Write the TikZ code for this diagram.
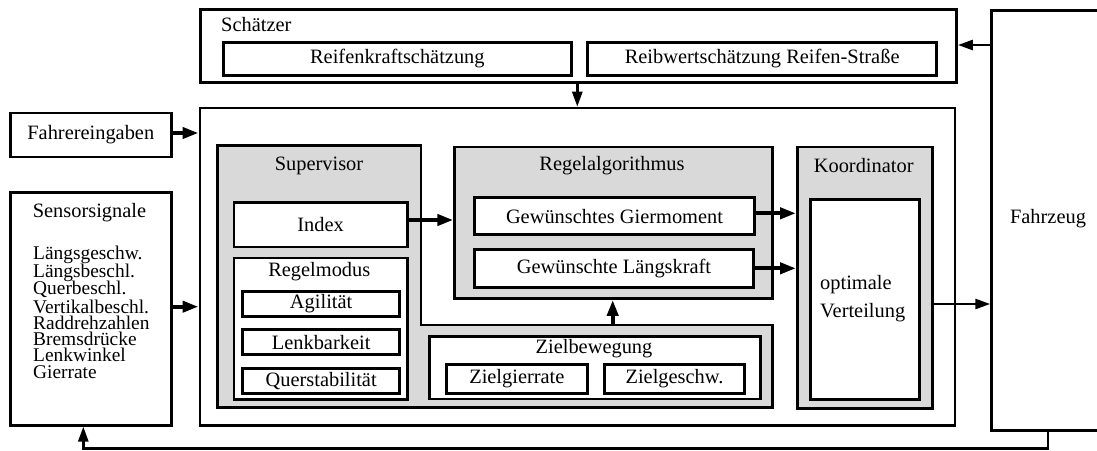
\documentclass[tikz,border=0pt]{standalone}
\usepackage{fontspec}
\setmainfont{Liberation Serif}
\usetikzlibrary{arrows.meta}
\newcommand{\tightlines}{\lineskiplimit=-100pt\relax}
\tikzset{
  frame/.style={draw, line width=2.6pt, fill=white},
  inbox/.style={draw, line width=3pt, fill=white},
  graybox/.style={draw, line width=2.6pt, fill=black!15},
  lbl/.style={inner sep=0pt, font=\fontsize{20.4}{22}\selectfont},
  flow/.style={line width=4pt, -{Triangle[length=16pt,width=11pt]}},
  thinflow/.style={line width=2.6pt, -{Triangle[length=15pt,width=10pt]}},
}
\newcommand{\boxat}[6]{% style, name, x1, y1, x2, y2
  \node[#1, inner sep=0pt, anchor=north west, minimum width={#5-#3}, minimum height={#6-#4}] (#2) at (#3,#4) {};}
\begin{document}
\begin{tikzpicture}[x=1pt,y=-1pt]
\useasboundingbox (0,0) rectangle (1097,450);

% estimator
\boxat{frame}{schaetzer}{199}{8.3}{955.3}{81}
\node[lbl, anchor=west] (tSchaetzer) at (221,25) {Schätzer};
\boxat{inbox}{reifen}{221.7}{40.7}{570}{74}
\node[lbl] (tReifen) at (reifen) {Reifenkraftschätzung};
\boxat{inbox}{reib}{586}{40.7}{935.3}{74}
\node[lbl] (tReib) at (reib) {Reibwertschätzung Reifen-Straße};

% vehicle (its right side runs past the page edge)
\boxat{frame}{fahrzeug}{990.3}{9.3}{1120}{429}
\node[lbl] (tFahrzeug) at (1048,219) {Fahrzeug};

% controller frame
\boxat{frame}{main}{198.5}{106.7}{953.7}{424}

% inputs
\boxat{frame}{fahrer}{9}{111.7}{170}{155.7}
\node[lbl] (tFahrer) at (fahrer) {Fahrereingaben};
\boxat{frame}{sensor}{9}{191}{170}{424}
\node[lbl] (tSensor) at (89.5,213) {Sensorsignale};
% base anchor of a multi-line node sits on its last line; fixed line pitch
\node[lbl, anchor=base west, align=left,
      font=\fontsize{19.4}{16.3}\selectfont\tightlines] (tSignals) at (33,378.2)
  {Längsgeschw.\\[2pt]Längsbeschl.\\[1pt]Querbeschl.\\[2pt]Vertikalbeschl.\\Raddrehzahlen\\Bremsdrücke\\Lenkwinkel\\Gierrate};

% supervisor (L-shaped grey region)
\draw[line width=2.6pt, fill=black!15] (217.3,145.7) -- (421,145.7) -- (421,325) -- (772.7,325)
  -- (772.7,407.3) -- (217.3,407.3) -- cycle;
\coordinate (supStep) at (612.7,325);
\node[lbl] (tSupervisor) at (319,166) {Supervisor};
\boxat{frame}{index}{232.7}{201}{406}{245.7}
\node[lbl] (tIndex) at (index) {Index};
\boxat{frame}{modus}{232.7}{256.7}{406}{398.3}
\node[lbl] (tModus) at (319.3,272) {Regelmodus};
\boxat{inbox}{agil}{241}{290}{398.3}{315}
\node[lbl] (tAgil) at (agil) {Agilität};
\boxat{inbox}{lenk}{241}{328.3}{398.3}{353.3}
\node[lbl] (tLenk) at (lenk) {Lenkbarkeit};
\boxat{inbox}{quer}{241}{366.7}{398.3}{391.7}
\node[lbl] (tQuer) at (quer) {Querstabilität};

\boxat{frame}{ziel}{428.3}{335}{759}{397.7}
\node[lbl] (tZiel) at (594,349) {Zielbewegung};
\boxat{inbox}{zgier}{445}{362.7}{585.7}{391.7}
\node[lbl] (tZgier) at (zgier) {Zielgierrate};
\boxat{inbox}{zgesch}{602.7}{362.7}{743.3}{391.7}
\node[lbl] (tZgesch) at (zgesch) {Zielgeschw.};

% control algorithm
\boxat{graybox}{regel}{453.3}{145.7}{771}{297.3}
\node[lbl] (tRegel) at (612,166) {Regelalgorithmus};
\boxat{inbox}{gier}{473.3}{196}{752.7}{233.3}
\node[lbl] (tGier) at (gier) {Gewünschtes Giermoment};
\boxat{inbox}{laengs}{473.3}{247.7}{751.7}{286}
\node[lbl] (tLaengs) at (laengs) {Gewünschte Längskraft};

% coordinator
\boxat{graybox}{koord}{796}{145.7}{931}{407.3}
\node[lbl] (tKoord) at (863.7,166) {Koordinator};
\boxat{inbox}{vert}{809.3}{197.7}{917.7}{397.7}
\node[lbl, anchor=west] (tOpt) at (820,284.3) {optimale};
\node[lbl, anchor=west] (tVert) at (820,312.3) {Verteilung};

% connectors
\draw[thinflow] (fahrzeug.west |- 0,45) -- (schaetzer.east |- 0,45);
\draw[thinflow] (schaetzer.south -| 577.3,0) -- (main.north -| 577.3,0);
\draw[flow] (fahrer.east |- 0,133) -- (main.west |- 0,133);
\draw[flow] (sensor.east |- 0,306.7) -- (main.west |- 0,306.7);
\draw[flow] (index.east |- 0,220) -- (regel.west |- 0,220);
\draw[flow] (gier.east |- 0,213.3) -- (koord.west |- 0,213.3);
\draw[flow] (laengs.east |- 0,268.3) -- (koord.west |- 0,268.3);
\draw[flow] (supStep) -- (regel.south -| supStep);
\draw[thinflow] (koord.east |- 0,304) -- (fahrzeug.west |- 0,304);
\coordinate (fbA) at (1048,448.5);
\coordinate (fbB) at (83.3,448.5);
\draw[thinflow] (fahrzeug.south -| fbA) -- (fbA) -- (fbB) -- (sensor.south -| fbB);
\end{tikzpicture}
\end{document}
